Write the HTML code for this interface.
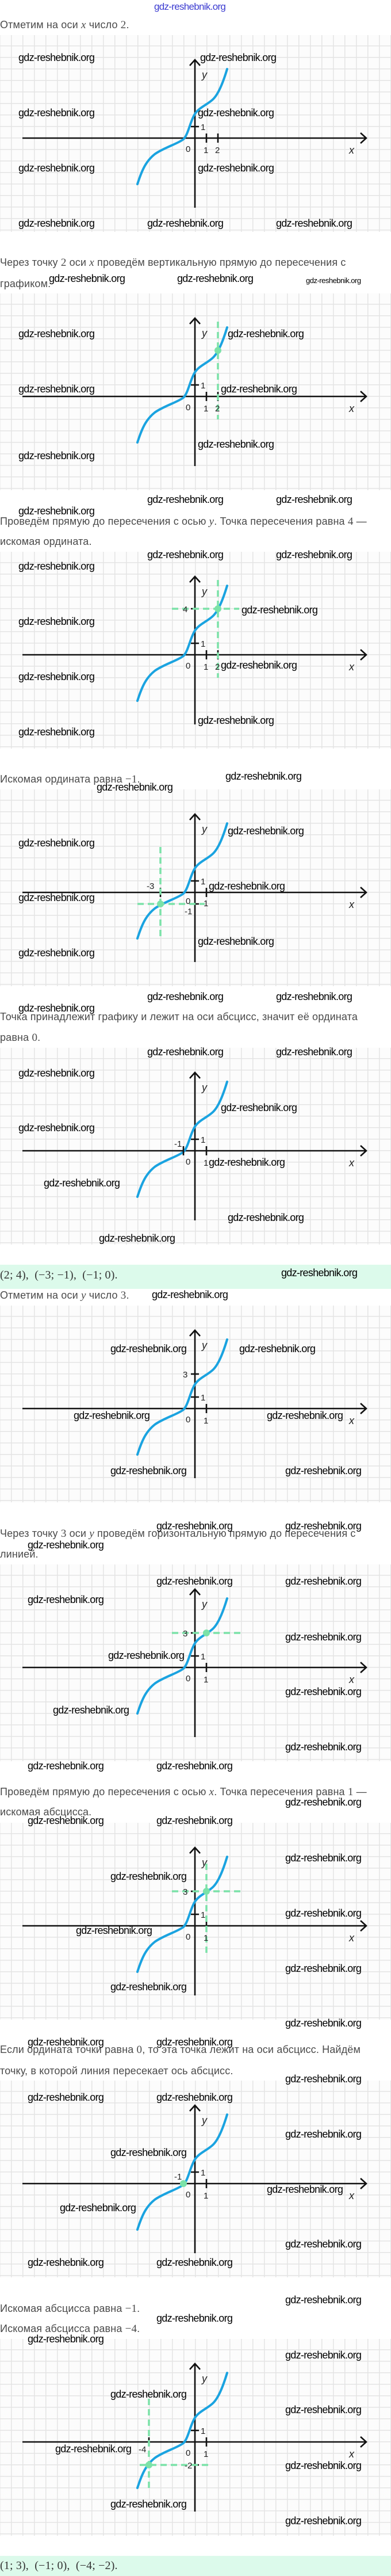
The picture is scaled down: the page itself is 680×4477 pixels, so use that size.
<!DOCTYPE html>
<html><head><meta charset="utf-8">
<style>
body{margin:0;width:680px;height:4477px;position:relative;background:#fff;overflow:hidden;font-family:"Liberation Sans",sans-serif}
.t{position:absolute;left:0;font-size:18px;line-height:22px;color:#4a4a4a;white-space:nowrap;letter-spacing:0.15px}
.m{font-family:"Liberation Serif",serif;font-size:19px}
.mi{font-family:"Liberation Serif",serif;font-style:italic;font-size:19px}
.w{position:absolute;font-size:18px;line-height:20px;letter-spacing:-0.7px;color:#000;white-space:nowrap;font-family:"Liberation Sans",sans-serif}
.g{position:absolute;left:0;width:680px;height:342px;background-color:#fcfcfc;
background-image:linear-gradient(#e4e4e4 1.5px,transparent 1.5px),linear-gradient(90deg,#e4e4e4 1.5px,transparent 1.5px);
background-size:20px 20px;background-position:19px 18px}
.g svg{position:absolute;left:0;top:0}
.box{position:absolute;left:0;width:680px;background:#dcfaeb}
.lab{font-family:"Liberation Sans",sans-serif;font-size:15px;fill:#222}
.ax{font-family:"Liberation Sans",sans-serif;font-style:italic;font-size:18px;fill:#222}
</style></head><body>
<svg width="0" height="0" style="position:absolute">
<defs>
<g id="base">
<path d="M-300,0 L298,0 M288,-9 L298,0 L288,9 M0,121 L0,-136 M-9,-126 L0,-136 L9,-126 M-7,-20 L7,-20 M20,-8 L20,8" stroke="#111" stroke-width="2.6" fill="none"/>
<path d="M-100,80 C-92,55 -85,40 -70,28 C-55,17 -30,10 -20,2 C-12,-5 -8,-30 0,-42 C8,-54 22,-58 32,-68 C42,-78 50,-100 56,-120" stroke="#1aa3e0" stroke-width="4" fill="none" stroke-linecap="round"/>
</g>
</defs>
</svg>

<div class="w" style="left:268px;top:2px;color:#3b3bd0;font-size:17px">gdz-reshebnik.org</div>

<div class="t" style="top:32px">Отметим на оси <span class="mi">x</span> число <span class="m">2</span>.</div>
<div class="t" style="top:445px">Через точку <span class="m">2</span> оси <span class="mi">x</span> проведём вертикальную прямую до пересечения с</div>
<div class="t" style="top:482px">графиком.</div>
<div class="t" style="top:895px">Проведём прямую до пересечения с осью <span class="mi">y</span>. Точка пересечения равна <span class="m">4</span> —</div>
<div class="t" style="top:930px">искомая ордината.</div>
<div class="t" style="top:1343px">Искомая ордината равна <span class="m">−1</span>.</div>
<div class="t" style="top:1756px">Точка принадлежит графику и лежит на оси абсцисс, значит её ордината</div>
<div class="t" style="top:1792px">равна <span class="m">0</span>.</div>
<div class="box" style="top:2198px;height:42px"></div>
<div class="t m" style="top:2203px;font-size:20px;line-height:26px;color:#333">(2; 4),&nbsp; (−3; −1),&nbsp; (−1; 0).</div>
<div class="t" style="top:2240px">Отметим на оси <span class="mi">y</span> число <span class="m">3</span>.</div>
<div class="t" style="top:2654px">Через точку <span class="m">3</span> оси <span class="mi">y</span> проведём горизонтальную прямую до пересечения с</div>
<div class="t" style="top:2690px">линией.</div>
<div class="t" style="top:3103px">Проведём прямую до пересечения с осью <span class="mi">x</span>. Точка пересечения равна <span class="m">1</span> —</div>
<div class="t" style="top:3138px">искомая абсцисса.</div>
<div class="t" style="top:3551px">Если ордината точки равна <span class="m">0</span>, то эта точка лежит на оси абсцисс. Найдём</div>
<div class="t" style="top:3588px">точку, в которой линия пересекает ось абсцисс.</div>
<div class="t" style="top:4001px">Искомая абсцисса равна <span class="m">−1</span>.</div>
<div class="t" style="top:4036px">Искомая абсцисса равна <span class="m">−4</span>.</div>
<div class="box" style="top:4442px;height:35px"></div>
<div class="t m" style="top:4446px;font-size:20px;line-height:26px;color:#333">(1; 3),&nbsp; (−1; 0),&nbsp; (−4; −2).</div>

<!-- G1 -->
<div class="g" style="top:61px"><svg width="680" height="342"><g transform="translate(339,179)">
<use href="#base"/><path d="M40,-8 L40,8" stroke="#111" stroke-width="2.6"/>
<text class="ax" x="12" y="-104">y</text><text class="ax" x="268" y="27">x</text>
<text class="lab" x="-16" y="24">0</text><text class="lab" x="15" y="26">1</text><text class="lab" x="35" y="26">2</text><text class="lab" x="10" y="-14">1</text>
</g></svg></div>
<!-- G2 -->
<div class="g" style="top:510px"><svg width="680" height="342"><g transform="translate(339,179)">
<use href="#base"/><path d="M40,-8 L40,8" stroke="#111" stroke-width="2.6"/>
<path d="M40,-130 L40,40" stroke="#7be2a8" stroke-width="3.5" stroke-dasharray="11,7"/>
<circle cx="40" cy="-80" r="6" fill="#7be2a8"/>
<text class="ax" x="12" y="-104">y</text><text class="ax" x="268" y="27">x</text>
<text class="lab" x="-16" y="24">0</text><text class="lab" x="15" y="26">1</text><text class="lab" x="35" y="26">2</text><text class="lab" x="10" y="-14">1</text>
</g></svg></div>
<!-- G3 -->
<div class="g" style="top:959px"><svg width="680" height="342"><g transform="translate(339,179)">
<use href="#base"/><path d="M40,-8 L40,8 M-7,-80 L7,-80" stroke="#111" stroke-width="2.6"/>
<path d="M40,-130 L40,40 M-40,-80 L77,-80" stroke="#7be2a8" stroke-width="3.5" stroke-dasharray="11,7"/>
<circle cx="40" cy="-80" r="6" fill="#7be2a8"/>
<text class="ax" x="12" y="-104">y</text><text class="ax" x="268" y="27">x</text>
<text class="lab" x="-21" y="-74">4</text>
<text class="lab" x="-16" y="24">0</text><text class="lab" x="15" y="26">1</text><text class="lab" x="35" y="26">2</text><text class="lab" x="10" y="-14">1</text>
</g></svg></div>
<!-- G4 -->
<div class="g" style="top:1372px"><svg width="680" height="342"><g transform="translate(339,179)">
<use href="#base"/><path d="M-60,-8 L-60,8 M-7,20 L7,20" stroke="#111" stroke-width="2.6"/>
<path d="M-60,-79 L-60,78 M-100,20 L17,20" stroke="#7be2a8" stroke-width="3.5" stroke-dasharray="11,7"/>
<circle cx="-60" cy="20" r="6" fill="#7be2a8"/>
<text class="ax" x="12" y="-104">y</text><text class="ax" x="268" y="27">x</text>
<text class="lab" x="-84" y="-6">-3</text><text class="lab" x="-16" y="20">0</text><text class="lab" x="15" y="24">1</text>
<text class="lab" x="-18" y="38">-1</text><text class="lab" x="10" y="-14">1</text>
</g></svg></div>
<!-- G5 -->
<div class="g" style="top:1821px"><svg width="680" height="342"><g transform="translate(339,179)">
<use href="#base"/><path d="M-20,-8 L-20,8" stroke="#111" stroke-width="2.6"/>
<text class="ax" x="12" y="-104">y</text><text class="ax" x="268" y="27">x</text>
<text class="lab" x="-36" y="-7">-1</text><text class="lab" x="-16" y="24">0</text><text class="lab" x="15" y="26">1</text><text class="lab" x="10" y="-14">1</text>
</g></svg></div>
<!-- G6 -->
<div class="g" style="top:2269px"><svg width="680" height="342"><g transform="translate(339,179)">
<use href="#base"/><path d="M-7,-60 L7,-60" stroke="#111" stroke-width="2.6"/>
<text class="ax" x="12" y="-104">y</text><text class="ax" x="268" y="27">x</text>
<text class="lab" x="-21" y="-54">3</text>
<text class="lab" x="-16" y="24">0</text><text class="lab" x="15" y="26">1</text><text class="lab" x="10" y="-14">1</text>
</g></svg></div>
<!-- G7 -->
<div class="g" style="top:2719px"><svg width="680" height="342"><g transform="translate(339,179)">
<use href="#base"/><path d="M-7,-60 L7,-60" stroke="#111" stroke-width="2.6"/>
<path d="M-40,-60 L81,-60" stroke="#7be2a8" stroke-width="3.5" stroke-dasharray="11,7"/>
<circle cx="20" cy="-60" r="6" fill="#7be2a8"/>
<text class="ax" x="12" y="-104">y</text><text class="ax" x="268" y="27">x</text>
<text class="lab" x="-21" y="-54">3</text>
<text class="lab" x="-16" y="24">0</text><text class="lab" x="15" y="26">1</text><text class="lab" x="10" y="-14">1</text>
</g></svg></div>
<!-- G8 -->
<div class="g" style="top:3168px"><svg width="680" height="342"><g transform="translate(339,179)">
<use href="#base"/><path d="M-7,-60 L7,-60" stroke="#111" stroke-width="2.6"/>
<path d="M-40,-60 L81,-60 M20,-108 L20,50" stroke="#7be2a8" stroke-width="3.5" stroke-dasharray="11,7"/>
<circle cx="20" cy="-60" r="6" fill="#7be2a8"/>
<text class="ax" x="12" y="-104">y</text><text class="ax" x="268" y="27">x</text>
<text class="lab" x="-21" y="-54">3</text>
<text class="lab" x="-16" y="24">0</text><text class="lab" x="15" y="26">1</text><text class="lab" x="10" y="-14">1</text>
</g></svg></div>
<!-- G9 -->
<div class="g" style="top:3616px"><svg width="680" height="342"><g transform="translate(339,179)">
<use href="#base"/>
<circle cx="-20" cy="0" r="6" fill="#7be2a8"/>
<text class="ax" x="12" y="-104">y</text><text class="ax" x="268" y="27">x</text>
<text class="lab" x="-36" y="-7">-1</text><text class="lab" x="-16" y="24">0</text><text class="lab" x="15" y="26">1</text><text class="lab" x="10" y="-14">1</text>
</g></svg></div>
<!-- G10 -->
<div class="g" style="top:4065px"><svg width="680" height="342"><g transform="translate(339,179)">
<use href="#base"/><path d="M-80,-8 L-80,8 M-7,40 L7,40" stroke="#111" stroke-width="2.6"/>
<path d="M-80,-75 L-80,82 M-96,40 L23,40" stroke="#7be2a8" stroke-width="3.5" stroke-dasharray="11,7"/>
<circle cx="-80" cy="40" r="6" fill="#7be2a8"/>
<text class="ax" x="12" y="-104">y</text><text class="ax" x="268" y="27">x</text>
<text class="lab" x="-98" y="18">-4</text><text class="lab" x="-18" y="46">-2</text>
<text class="lab" x="-16" y="24">0</text><text class="lab" x="15" y="26">1</text><text class="lab" x="10" y="-14">1</text>
</g></svg></div>

<!-- watermarks -->
<div class="w" style="left:32px;top:90px">gdz-reshebnik.org</div>
<div class="w" style="left:348px;top:90px">gdz-reshebnik.org</div>
<div class="w" style="left:32px;top:186px">gdz-reshebnik.org</div>
<div class="w" style="left:344px;top:186px">gdz-reshebnik.org</div>
<div class="w" style="left:32px;top:282px">gdz-reshebnik.org</div>
<div class="w" style="left:344px;top:282px">gdz-reshebnik.org</div>
<div class="w" style="left:32px;top:378px">gdz-reshebnik.org</div>
<div class="w" style="left:256px;top:378px">gdz-reshebnik.org</div>
<div class="w" style="left:480px;top:378px">gdz-reshebnik.org</div>
<div class="w" style="left:85px;top:474px">gdz-reshebnik.org</div>
<div class="w" style="left:308px;top:474px">gdz-reshebnik.org</div>
<div class="w" style="left:532px;top:478px;font-size:13px;letter-spacing:-0.5px">gdz-reshebnik.org</div>

<div class="w" style="left:32px;top:570px">gdz-reshebnik.org</div>
<div class="w" style="left:396px;top:570px">gdz-reshebnik.org</div>
<div class="w" style="left:32px;top:666px">gdz-reshebnik.org</div>
<div class="w" style="left:384px;top:666px">gdz-reshebnik.org</div>
<div class="w" style="left:344px;top:762px">gdz-reshebnik.org</div>
<div class="w" style="left:32px;top:782px">gdz-reshebnik.org</div>
<div class="w" style="left:256px;top:858px">gdz-reshebnik.org</div>
<div class="w" style="left:480px;top:858px">gdz-reshebnik.org</div>
<div class="w" style="left:32px;top:878px">gdz-reshebnik.org</div>
<div class="w" style="left:256px;top:954px">gdz-reshebnik.org</div>
<div class="w" style="left:480px;top:954px">gdz-reshebnik.org</div>
<div class="w" style="left:32px;top:974px">gdz-reshebnik.org</div>
<div class="w" style="left:420px;top:1050px">gdz-reshebnik.org</div>
<div class="w" style="left:32px;top:1070px">gdz-reshebnik.org</div>

<div class="w" style="left:384px;top:1146px">gdz-reshebnik.org</div>
<div class="w" style="left:32px;top:1166px">gdz-reshebnik.org</div>
<div class="w" style="left:344px;top:1242px">gdz-reshebnik.org</div>
<div class="w" style="left:32px;top:1262px">gdz-reshebnik.org</div>
<div class="w" style="left:392px;top:1339px">gdz-reshebnik.org</div>
<div class="w" style="left:168px;top:1358px">gdz-reshebnik.org</div>
<div class="w" style="left:396px;top:1434px">gdz-reshebnik.org</div>
<div class="w" style="left:32px;top:1455px">gdz-reshebnik.org</div>
<div class="w" style="left:363px;top:1530px">gdz-reshebnik.org</div>
<div class="w" style="left:32px;top:1550px">gdz-reshebnik.org</div>
<div class="w" style="left:344px;top:1626px">gdz-reshebnik.org</div>
<div class="w" style="left:32px;top:1646px">gdz-reshebnik.org</div>

<div class="w" style="left:256px;top:1722px">gdz-reshebnik.org</div>
<div class="w" style="left:480px;top:1722px">gdz-reshebnik.org</div>
<div class="w" style="left:32px;top:1742px">gdz-reshebnik.org</div>
<div class="w" style="left:256px;top:1818px">gdz-reshebnik.org</div>
<div class="w" style="left:480px;top:1818px">gdz-reshebnik.org</div>
<div class="w" style="left:32px;top:1855px">gdz-reshebnik.org</div>
<div class="w" style="left:384px;top:1915px">gdz-reshebnik.org</div>
<div class="w" style="left:32px;top:1950px">gdz-reshebnik.org</div>
<div class="w" style="left:363px;top:2010px">gdz-reshebnik.org</div>
<div class="w" style="left:76px;top:2046px">gdz-reshebnik.org</div>
<div class="w" style="left:396px;top:2106px">gdz-reshebnik.org</div>
<div class="w" style="left:172px;top:2142px">gdz-reshebnik.org</div>
<div class="w" style="left:489px;top:2202px">gdz-reshebnik.org</div>

<div class="w" style="left:264px;top:2240px">gdz-reshebnik.org</div>
<div class="w" style="left:192px;top:2334px">gdz-reshebnik.org</div>
<div class="w" style="left:416px;top:2334px">gdz-reshebnik.org</div>
<div class="w" style="left:128px;top:2450px">gdz-reshebnik.org</div>
<div class="w" style="left:464px;top:2450px">gdz-reshebnik.org</div>
<div class="w" style="left:192px;top:2546px">gdz-reshebnik.org</div>
<div class="w" style="left:496px;top:2546px">gdz-reshebnik.org</div>
<div class="w" style="left:272px;top:2642px">gdz-reshebnik.org</div>
<div class="w" style="left:496px;top:2642px">gdz-reshebnik.org</div>
<div class="w" style="left:48px;top:2675px">gdz-reshebnik.org</div>
<div class="w" style="left:272px;top:2738px">gdz-reshebnik.org</div>
<div class="w" style="left:496px;top:2738px">gdz-reshebnik.org</div>
<div class="w" style="left:48px;top:2770px">gdz-reshebnik.org</div>

<div class="w" style="left:496px;top:2835px">gdz-reshebnik.org</div>
<div class="w" style="left:188px;top:2867px">gdz-reshebnik.org</div>
<div class="w" style="left:496px;top:2930px">gdz-reshebnik.org</div>
<div class="w" style="left:92px;top:2962px">gdz-reshebnik.org</div>
<div class="w" style="left:496px;top:3026px">gdz-reshebnik.org</div>
<div class="w" style="left:48px;top:3059px">gdz-reshebnik.org</div>
<div class="w" style="left:272px;top:3059px">gdz-reshebnik.org</div>
<div class="w" style="left:496px;top:3122px">gdz-reshebnik.org</div>
<div class="w" style="left:48px;top:3154px">gdz-reshebnik.org</div>
<div class="w" style="left:272px;top:3154px">gdz-reshebnik.org</div>
<div class="w" style="left:496px;top:3219px">gdz-reshebnik.org</div>
<div class="w" style="left:192px;top:3251px">gdz-reshebnik.org</div>
<div class="w" style="left:496px;top:3315px">gdz-reshebnik.org</div>
<div class="w" style="left:132px;top:3345px">gdz-reshebnik.org</div>

<div class="w" style="left:496px;top:3411px">gdz-reshebnik.org</div>
<div class="w" style="left:192px;top:3443px">gdz-reshebnik.org</div>
<div class="w" style="left:496px;top:3506px">gdz-reshebnik.org</div>
<div class="w" style="left:48px;top:3539px">gdz-reshebnik.org</div>
<div class="w" style="left:272px;top:3539px">gdz-reshebnik.org</div>
<div class="w" style="left:496px;top:3603px">gdz-reshebnik.org</div>
<div class="w" style="left:48px;top:3635px">gdz-reshebnik.org</div>
<div class="w" style="left:272px;top:3635px">gdz-reshebnik.org</div>
<div class="w" style="left:496px;top:3699px">gdz-reshebnik.org</div>
<div class="w" style="left:192px;top:3731px">gdz-reshebnik.org</div>
<div class="w" style="left:464px;top:3795px">gdz-reshebnik.org</div>
<div class="w" style="left:104px;top:3827px">gdz-reshebnik.org</div>
<div class="w" style="left:496px;top:3890px">gdz-reshebnik.org</div>

<div class="w" style="left:48px;top:3922px">gdz-reshebnik.org</div>
<div class="w" style="left:272px;top:3922px">gdz-reshebnik.org</div>
<div class="w" style="left:496px;top:3987px">gdz-reshebnik.org</div>
<div class="w" style="left:272px;top:4019px">gdz-reshebnik.org</div>
<div class="w" style="left:48px;top:4055px">gdz-reshebnik.org</div>
<div class="w" style="left:496px;top:4083px">gdz-reshebnik.org</div>
<div class="w" style="left:192px;top:4151px">gdz-reshebnik.org</div>
<div class="w" style="left:496px;top:4178px">gdz-reshebnik.org</div>
<div class="w" style="left:96px;top:4246px">gdz-reshebnik.org</div>
<div class="w" style="left:496px;top:4275px">gdz-reshebnik.org</div>
<div class="w" style="left:192px;top:4342px">gdz-reshebnik.org</div>
<div class="w" style="left:496px;top:4371px">gdz-reshebnik.org</div>
</body></html>
